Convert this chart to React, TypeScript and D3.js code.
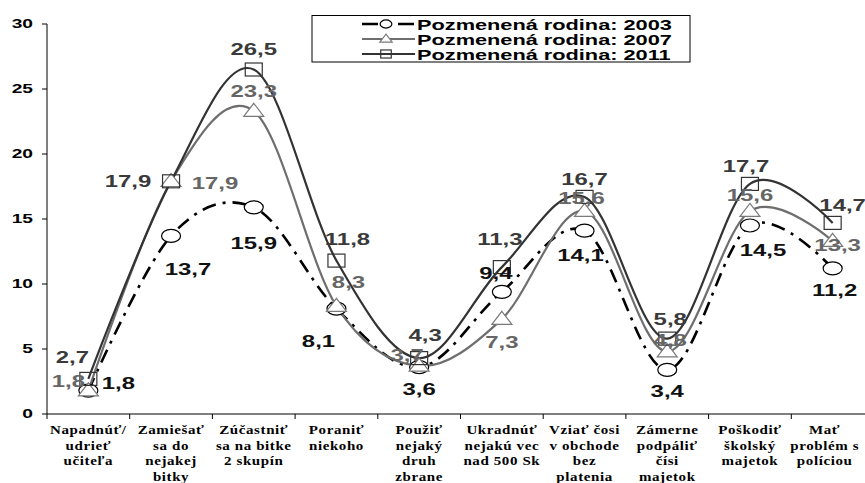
import React from "react";
import * as d3 from "d3";

const categories: string[][] = [
  ["Napadnúť/", "udrieť", "učiteľa"],
  ["Zamiešať", "sa do", "nejakej", "bitky"],
  ["Zúčastniť", "sa na bitke", "2 skupín"],
  ["Poraniť", "niekoho"],
  ["Použiť", "nejaký", "druh", "zbrane"],
  ["Ukradnúť", "nejakú vec", "nad 500 Sk"],
  ["Vziať čosi", "v obchode", "bez", "platenia"],
  ["Zámerne", "podpáliť", "čísi", "majetok"],
  ["Poškodiť", "školský", "majetok"],
  ["Mať", "problém s", "políciou"],
];

const values2003 = [1.8, 13.7, 15.9, 8.1, 3.6, 9.4, 14.1, 3.4, 14.5, 11.2];
const values2007 = [1.8, 17.9, 23.3, 8.3, 3.7, 7.3, 15.6, 4.8, 15.6, 13.3];
const values2011 = [2.7, 17.9, 26.5, 11.8, 4.3, 11.3, 16.7, 5.8, 17.7, 14.7];
const seriesNames = ["Pozmenená rodina: 2003", "Pozmenená rodina: 2007", "Pozmenená rodina: 2011"];
const yTicks = [0, 5, 10, 15, 20, 25, 30];

// label offsets (dx, dy) relative to the point
const off2003 = [[30, -8], [17, 33], [0, 36], [-18, 32], [0, 22], [-6, -19], [-4, 24], [0, 21], [13, 24], [2, 22]];
const off2007 = [[-20, -10], [44, 2], [0, -20], [12, -24], [-12, -11], [0, 23], [-3, -13], [3, -12], [0, -16], [5, 4]];
const off2011 = [[-16, -22], [-43, 0], [0, -21], [11, -22], [6, -23], [-2, -28], [0, -18], [3, -20], [-4, -18], [10, -18]];

const W = 865;
const H = 483;
const SX = 1.45;

function fmt(v: number) {
  return v.toFixed(1).replace(".", ",");
}

function Marker({ kind, x, y, color, small }: { kind: string; x: number; y: number; color: string; small?: boolean }) {
  const k = small ? 0.62 : 1;
  if (kind === "circle") {
    return <ellipse cx={x} cy={y} rx={9.5 * k} ry={6.5 * k} fill="#fff" stroke={color} strokeWidth={1.2} />;
  }
  if (kind === "triangle") {
    const w = 10 * k, h = 13 * k;
    return (
      <path
        d={`M${x},${y - h * 0.6}L${x + w},${y + h * 0.4}L${x - w},${y + h * 0.4}Z`}
        fill="#fff"
        stroke={color}
        strokeWidth={1.2}
      />
    );
  }
  const w = 8.5 * k, h = 6.5 * k;
  return <rect x={x - w} y={y - h} width={2 * w} height={2 * h} fill="none" stroke={color} strokeWidth={1.2} />;
}

export default function App() {
  const x0 = 47;
  const band = 82.7;
  const xScale = d3
    .scaleBand<number>()
    .domain(d3.range(categories.length))
    .range([x0, x0 + band * categories.length])
    .padding(0);
  const yScale = d3.scaleLinear().domain([0, 30]).range([414, 24]);
  const cx = (i: number) => (xScale(i) as number) + xScale.bandwidth() / 2;

  const line = d3
    .line<number>()
    .x((_, i) => cx(i))
    .y((d) => yScale(d))
    .curve(d3.curveCardinal.tension(0));

  const series = [
    { vals: values2003, color: "#000", labelColor: "#111", width: 2.6, dash: "14,7,3,7", marker: "circle", markerColor: "#000", offs: off2003 },
    { vals: values2007, color: "#6e6e6e", labelColor: "#666", width: 2.2, dash: undefined, marker: "triangle", markerColor: "#7a7a7a", offs: off2007 },
    { vals: values2011, color: "#333", labelColor: "#3a3a3a", width: 2.2, dash: undefined, marker: "square", markerColor: "#333", offs: off2011 },
  ];

  const tf = (x: number, y: number, s = SX) => `translate(${x},${y}) scale(${s},1)`;
  const serif = "'Liberation Serif', 'Times New Roman', Times, serif";
  const sans = "'Liberation Sans', Arial, sans-serif";

  return (
    <svg width={W} height={H} style={{ position: "absolute", left: 0, top: 0, background: "#fff" }}>
      <rect width={W} height={H} fill="#fff" />
      {/* Y axis */}
      <line x1={x0} x2={x0} y1={yScale(30)} y2={yScale(0)} stroke="#000" strokeWidth={1} />
      {yTicks.map((t) => (
        <g key={t}>
          <line x1={x0 - 5} x2={x0} y1={yScale(t)} y2={yScale(t)} stroke="#000" />
          <text
            transform={tf(33, yScale(t) + 4, 1.6)}
            textAnchor="end"
            fontFamily={sans}
            fontWeight="bold"
            fontSize={12}
            fill="#000"
          >
            {t}
          </text>
        </g>
      ))}
      {/* X axis */}
      <line x1={x0} x2={W} y1={yScale(0)} y2={yScale(0)} stroke="#000" />
      {d3.range(categories.length + 1).map((i) => (
        <line key={i} x1={x0 + band * i} x2={x0 + band * i} y1={yScale(0)} y2={yScale(0) + 5} stroke="#000" />
      ))}
      {categories.map((lines, i) => (
        <g key={i}>
          {lines.map((ln, j) => (
            <text
              key={j}
              transform={tf(i === categories.length - 1 ? cx(i) - 8 : cx(i), 434 + j * 15.5, 1.2)}
              textAnchor="middle"
              fontFamily={serif}
              fontWeight="bold"
              fontSize={12.5}
              letterSpacing={0.5}
              fill="#000"
            >
              {ln}
            </text>
          ))}
        </g>
      ))}
      {/* lines */}
      {series.map((s, si) => (
        <path
          key={si}
          d={line(s.vals) || ""}
          fill="none"
          stroke={s.color}
          strokeWidth={s.width}
          strokeDasharray={s.dash}
        />
      ))}
      {/* markers */}
      {series.map((s, si) => (
        <g key={si}>
          {s.vals.map((v, i) => (
            <Marker key={i} kind={s.marker} x={cx(i)} y={yScale(v)} color={s.markerColor} />
          ))}
        </g>
      ))}
      {/* labels */}
      {series.map((s, si) => (
        <g key={si}>
          {s.vals.map((v, i) => (
            <text
              key={i}
              transform={tf(cx(i) + s.offs[i][0], yScale(v) + s.offs[i][1] + 6)}
              textAnchor="middle"
              fontFamily={sans}
              fontWeight="bold"
              fontSize={16.5}
              fill={s.labelColor}
            >
              {fmt(v)}
            </text>
          ))}
        </g>
      ))}
      {/* legend */}
      <rect x={312} y={15.5} width={378} height={46.5} fill="#fff" stroke="#000" strokeWidth={1} />
      {series.map((s, si) => {
        const ly = 24 + si * 15;
        return (
          <g key={si}>
            <line x1={362} x2={415} y1={ly} y2={ly} stroke={s.color} strokeWidth={s.width} strokeDasharray={s.dash ? "16,7,6,7" : undefined} />
            <Marker kind={s.marker} x={386} y={ly} color={s.markerColor} small />
            <text
              transform={tf(417, ly + 5.5, 1.5)}
              textAnchor="start"
              fontFamily={sans}
              fontWeight="bold"
              fontSize={14.5}
              fill="#000"
            >
              {seriesNames[si]}
            </text>
          </g>
        );
      })}
    </svg>
  );
}
